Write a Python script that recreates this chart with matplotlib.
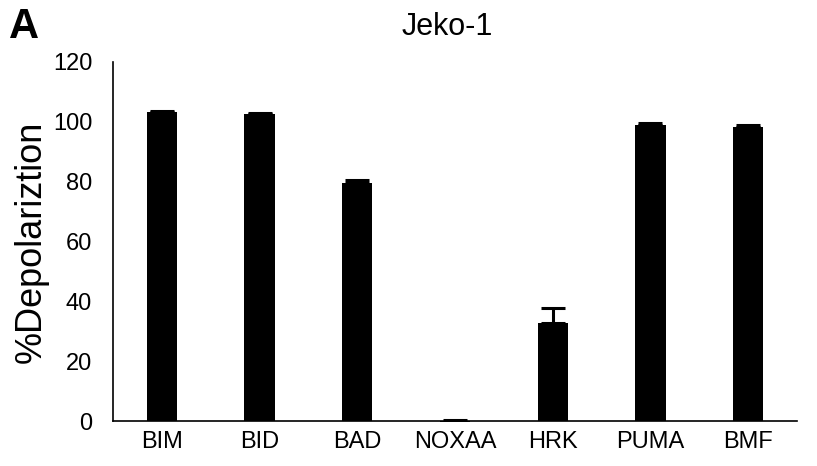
import matplotlib
matplotlib.use("Agg")
import matplotlib.pyplot as plt

categories = ["BIM", "BID", "BAD", "NOXAA", "HRK", "PUMA", "BMF"]
values = [103.2, 102.5, 79.4, -0.5, 32.8, 98.8, 98.2]
errors = [0.5, 0.5, 1.0, 0.9, 5.0, 0.8, 0.6]
yticks = [0, 20, 40, 60, 80, 100, 120]

plt.rcParams['font.family'] = ['Liberation Sans', 'DejaVu Sans']

fig = plt.figure(figsize=(8.17, 4.66), dpi=100)
ax = fig.add_axes([113/817, 1-421/466, 684/817, 359/466])

x = list(range(len(categories)))
bars = ax.bar(x, values, width=0.31, color='black', zorder=2)
for b in bars:
    b.set_clip_on(False)
ax.errorbar(x, values, yerr=[[0]*len(errors), errors], fmt='none', ecolor='black',
            elinewidth=2.2, capsize=8.5, capthick=2.2, zorder=3)

ax.set_xlim(-0.5, 6.5)
ax.set_ylim(0, 120)
ax.set_yticks(yticks)
ax.set_xticks(x)
ax.set_xticklabels(categories)
ax.tick_params(axis='y', length=0, labelsize=17, pad=15)
ax.tick_params(axis='x', length=0, labelsize=17, pad=7)
for s in ['top', 'right']:
    ax.spines[s].set_visible(False)
ax.spines['left'].set_linewidth(1.2)
ax.spines['bottom'].set_linewidth(1.2)
ax.spines['bottom'].set_zorder(4)
ax.set_ylabel('%Depolariztion', fontsize=26, labelpad=3)

fig.text(447/817, 1-27/466, 'Jeko-1', fontsize=22, ha='center', va='center')
fig.text(9/817, 1-27/466, 'A', fontsize=30, fontweight='bold', ha='left', va='center')

fig.savefig('out.png', dpi=100)
